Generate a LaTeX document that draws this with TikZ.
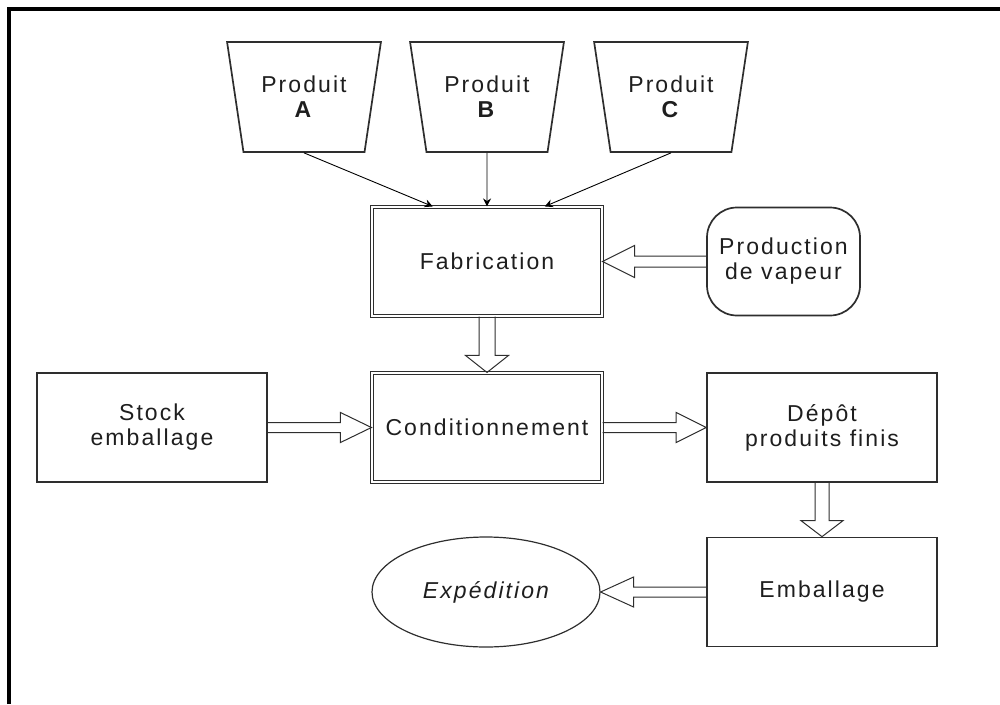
\documentclass[tikz,border=0pt]{standalone}
\usepackage{fontspec}
\setmainfont{Liberation Sans}[LetterSpace=9]
\usetikzlibrary{calc,arrows.meta,shapes.geometric}
\definecolor{trait}{HTML}{2E2E2E}
\definecolor{texte}{HTML}{1E1E1E}
\newcommand{\txt}{\fontsize{23}{25}\selectfont}
\tikzset{
  cadre/.style={draw=black, line width=4pt},
  poste/.style={draw=trait, line width=1.7pt, minimum width=230pt, minimum height=109pt,
    align=center, text=texte, font=\txt, inner sep=2pt},
  poste2/.style={poste, line width=1.1pt, double=white, double distance=1.5pt},
  tremie/.style={trapezium, trapezium angle=74.5, trapezium stretches=true,
    shape border rotate=180, minimum width=154pt, minimum height=110pt,
    draw=trait, line width=1.7pt, align=center, text=texte, font=\txt, inner sep=0pt},
  vapeur/.style={poste, rounded corners=30pt, minimum width=153pt, minimum height=108pt},
  sortie/.style={ellipse, draw=trait, line width=1.2pt, minimum width=228pt,
    minimum height=110pt, inner sep=0pt, text=texte, font=\txt},
  fine/.style={draw=black, line width=0.9pt, -{Stealth[length=8pt,width=8pt]}},
  creux/.style={draw=trait, line width=1pt, line join=miter},
}
% fleche creuse : depart, arrivee, demi-fut, demi-tete, longueur de tete
\newcommand{\flux}[5]{%
  \coordinate (fb) at ($(#2)!#5!(#1)$);
  \draw[creux] ($(#1)!#3!90:(#2)$) -- ($(fb)!#3!-90:(#1)$) -- ($(fb)!#4!-90:(#1)$)
    -- (#2) -- ($(fb)!#4!90:(#1)$) -- ($(fb)!#3!90:(#1)$) -- ($(#1)!#3!-90:(#2)$);
}

\begin{document}
\begin{tikzpicture}[x=1pt,y=1pt]
  \useasboundingbox (0,0) rectangle (1000,-704);
  \draw[cadre] (9,-704) -- (9,-8.5) -- (1000,-8.5);

  % matieres premieres
  \node[tremie] (pa) at (304,-97) {Produit\\\textbf{A}};
  \node[tremie] (pb) at (487,-97) {Produit\\\textbf{B}};
  \node[tremie] (pc) at (671,-97) {Produit\\\textbf{C}};

  % postes
  \node[poste2] (fab) at (487,-261.5) {Fabrication};
  \node[vapeur] (vap) at (783.5,-261.5) {Production\\de vapeur};
  \node[poste] (stock) at (152,-427.5) {Stock\\emballage};
  \node[poste2] (cond) at (487,-427.5) {Conditionnement};
  \node[poste] (depot) at (822,-427.5) {Dépôt\\produits finis};
  \node[poste] (emb) at (822,-592) {Emballage};
  \node[sortie] (exp) at (486,-592) {\itshape Expédition};

  % alimentation
  \draw[fine] (pa.south) -- ($(fab.north west)!0.265!(fab.north east)$);
  \draw[fine] (pb.south) -- (fab.north);
  \draw[fine] (pc.south) -- ($(fab.north west)!0.75!(fab.north east)$);

  % flux
  \flux{vap.west}{fab.east}{5.5pt}{16pt}{32pt}
  \flux{fab.south}{cond.north}{8pt}{21.5pt}{17pt}
  \flux{stock.east}{cond.west}{5pt}{15pt}{31pt}
  \flux{cond.east}{depot.west}{5pt}{15pt}{30pt}
  \flux{depot.south}{emb.north}{7pt}{21pt}{16pt}
  \flux{emb.west}{exp.east}{5pt}{15pt}{33pt}
\end{tikzpicture}
\end{document}
